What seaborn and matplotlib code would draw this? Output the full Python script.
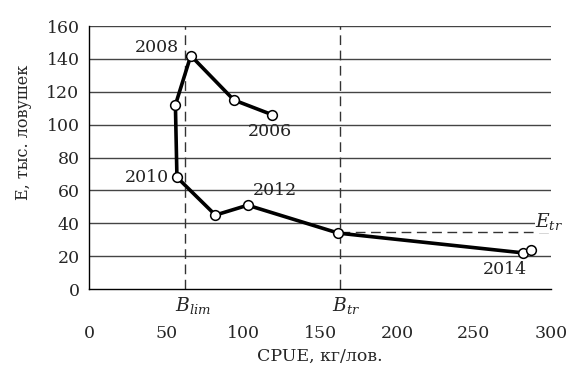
import matplotlib
matplotlib.use("Agg")
import matplotlib.pyplot as plt
import seaborn as sns
import pandas as pd

# данные
years = [2006, 2007, 2008, 2009, 2010, 2011, 2012, 2013, 2014, 2015]
cpue = [119, 94, 66, 56, 57, 82, 103, 162, 282, 287]
effort = [106, 115, 142, 112, 68, 45, 51, 34, 22, 24]
b_lim = 62.5
b_tr = 163
e_tr = 35
x_ticks = [0, 50, 100, 150, 200, 250, 300]
y_ticks = [0, 20, 40, 60, 80, 100, 120, 140, 160]

df = pd.DataFrame({"year": years, "CPUE": cpue, "E": effort})

sns.set_style("white")
plt.rcParams["font.family"] = ["DejaVu Serif"]
plt.rcParams["mathtext.fontset"] = "dejavuserif"

fig = plt.figure(figsize=(5.72, 3.72), dpi=100)
ax = fig.add_axes([0.156, 0.223, 0.807, 0.707])

for v in y_ticks[1:]:
    ax.axhline(v, color="#444444", lw=1, zorder=1)

ax.plot([b_lim, b_lim], [0, 160], color="#333333", lw=1, ls=(0, (7, 4)), zorder=1)
ax.plot([b_tr, b_tr], [0, 160], color="#333333", lw=1, ls=(0, (7, 4)), zorder=1)
ax.plot([b_tr, 301], [e_tr, e_tr], color="#333333", lw=1, ls=(0, (7, 4)), zorder=1)

sns.lineplot(data=df, x="CPUE", y="E", sort=False, ax=ax, color="black", lw=2.6,
             marker="o", markersize=7, markerfacecolor="white",
             markeredgecolor="black", markeredgewidth=1.1, zorder=3)

ax.set_xlim(0, 300)
ax.set_ylim(0, 160)
ax.set_xticks(x_ticks)
ax.set_yticks(y_ticks)
ax.tick_params(axis="x", direction="out", length=4, width=1, pad=22, labelsize=12.5)
ax.tick_params(axis="y", direction="out", length=4, width=1, pad=3, labelsize=12.5)
for s in ["top", "right"]:
    ax.spines[s].set_visible(False)
for s in ["left", "bottom"]:
    ax.spines[s].set_color("black")
    ax.spines[s].set_linewidth(1)

ax.set_xlabel("CPUE, кг/лов.", fontsize=12.5, labelpad=4)
ax.set_ylabel("E, тыс. ловушек", fontsize=11.5, labelpad=10)
ax.yaxis.set_label_coords(-0.125, 0.597)

fs = 12.5
ax.text(58, 147, "2008", ha="right", va="center", fontsize=fs, color="#222222")
ax.text(103, 96, "2006", ha="left", va="center", fontsize=fs, color="#222222")
ax.text(52, 68, "2010", ha="right", va="center", fontsize=fs, color="#222222")
ax.text(106, 60, "2012", ha="left", va="center", fontsize=fs, color="#222222")
ax.text(256, 12, "2014", ha="left", va="center", fontsize=fs, color="#222222")
ax.text(290, 41, r"$E_{tr}$", ha="left", va="center", fontsize=fs + 1,
        bbox=dict(facecolor="white", edgecolor="none", pad=0.5), zorder=4)
ax.text(56, -10, r"$B_{lim}$", ha="left", va="center", fontsize=fs + 1, clip_on=False)
ax.text(158, -10, r"$B_{tr}$", ha="left", va="center", fontsize=fs + 1, clip_on=False)

fig.savefig("out.png", dpi=100)
plt.close()
